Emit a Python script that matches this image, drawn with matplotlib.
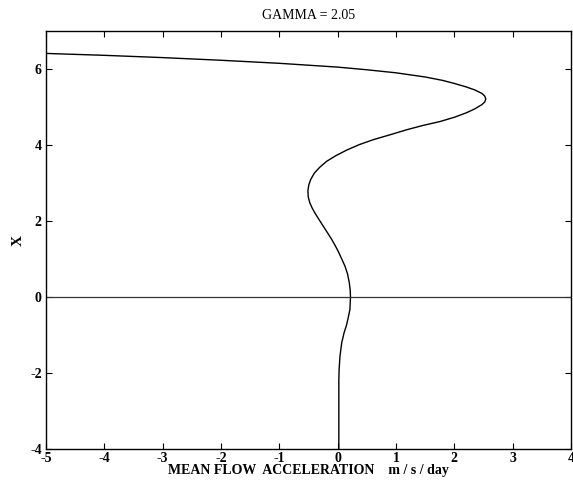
import numpy as np
import matplotlib
matplotlib.use("Agg")
import matplotlib.pyplot as plt

plt.rcParams['font.family'] = ['Liberation Serif', 'DejaVu Serif']
plt.rcParams['axes.unicode_minus'] = False

# mean flow acceleration (m/s/day) vs X
accel = [-5.0, -4.0, -3.0, -2.0, -1.0, -0.5, 0.0, 0.5, 1.0, 1.5, 1.8, 2.0, 2.2, 2.35,
         2.47, 2.52, 2.54, 2.52, 2.47, 2.35, 2.21, 2.0, 1.76, 1.45, 1.18, 0.9, 0.61,
         0.37, 0.16, -0.03, -0.19, -0.31, -0.40, -0.46, -0.495, -0.51, -0.505, -0.48,
         -0.44, -0.39, -0.32, -0.246, -0.17, -0.10, -0.045, 0.01, 0.07, 0.126, 0.17,
         0.20, 0.215, 0.22, 0.21, 0.18, 0.15, 0.11, 0.07, 0.04, 0.025, 0.02, 0.02, 0.02]
xpos = [6.41, 6.36, 6.30, 6.23, 6.15, 6.10, 6.05, 5.98, 5.90, 5.79, 5.70, 5.62, 5.53,
        5.45, 5.36, 5.29, 5.21, 5.13, 5.06, 4.95, 4.85, 4.73, 4.62, 4.51, 4.40, 4.27,
        4.14, 4.01, 3.87, 3.72, 3.57, 3.41, 3.26, 3.10, 2.95, 2.80, 2.64, 2.49,
        2.35, 2.21, 2.04, 1.86, 1.68, 1.51, 1.36, 1.20, 1.00, 0.81, 0.60,
        0.37, 0.18, 0.0, -0.33, -0.55, -0.75, -0.94, -1.20, -1.55, -1.90, -2.17, -3.0, -4.0]

xticks = [-5, -4, -3, -2, -1, 0, 1, 2, 3, 4]
yticks = [-4, -2, 0, 2, 4, 6]

fig = plt.figure(figsize=(5.73, 4.83), dpi=100)
ax = fig.add_axes([0.0803, 0.0704, 0.9162, 0.8654])

ax.plot(accel, xpos, color='black', lw=1.0)
ax.axhline(0, color='#333333', lw=0.9)

ax.set_xlim(-5, 4)
ax.set_ylim(-4, 7)
ax.set_xticks(xticks)
ax.set_yticks(yticks)
ax.tick_params(direction='in', top=True, right=True, length=4, width=0.8,
               labelsize=10)
ax.tick_params(axis='x', pad=2.5)
ax.tick_params(axis='y', pad=3)
for lab in ax.get_xticklabels() + ax.get_yticklabels():
    lab.set_fontweight('bold')
for s in ax.spines.values():
    s.set_linewidth(1.0)

ax.set_title("GAMMA = 2.05", fontsize=10, pad=9)
ax.set_xlabel("MEAN FLOW  ACCELERATION    m / s / day", fontsize=10,
              fontweight='bold', labelpad=-1)
ax.set_ylabel("X", fontsize=11, fontweight='bold', labelpad=4)

fig.savefig("out.png", dpi=100)
